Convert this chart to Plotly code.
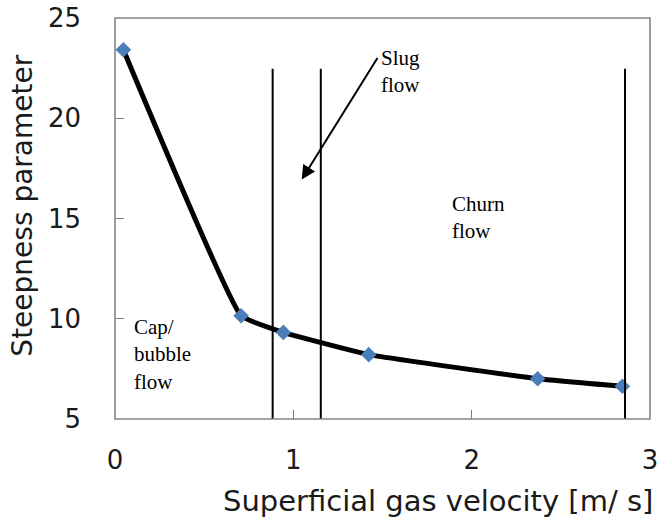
import plotly.graph_objects as go

# Data
gas_velocity = [0.047, 0.707, 0.944, 1.423, 2.37, 2.845]
steepness = [23.42, 10.15, 9.32, 8.21, 7.01, 6.63]

# Flow-regime boundary lines (x positions) and their extent in y
boundary_x = [0.884, 1.154, 2.86]
boundary_y_bottom = 5.0
boundary_y_top = 22.47

# Region labels
region_labels = ["Slug<br>flow", "Churn<br>flow", "Cap/<br>bubble<br>flow"]
region_label_x = [1.48, 1.88, 0.095]
region_label_y = [23.72, 16.43, 10.3]

# Arrow (tail -> head) in data units
arrow_tail = (1.477, 23.08)
arrow_head = (1.047, 16.94)

x_ticks = [0, 1, 2, 3]
y_ticks = [5, 10, 15, 20, 25]

fig = go.Figure()

fig.add_trace(go.Scatter(
    x=gas_velocity, y=steepness,
    mode="lines+markers",
    line=dict(color="black", width=5, shape="spline", smoothing=0.3),
    marker=dict(symbol="diamond", size=12, color="#4A7EBB"),
    showlegend=False, hoverinfo="skip",
))

bx, by = [], []
for xv in boundary_x:
    bx += [xv, xv, None]
    by += [boundary_y_bottom, boundary_y_top, None]
fig.add_trace(go.Scatter(
    x=bx, y=by, mode="lines",
    line=dict(color="black", width=2),
    showlegend=False, hoverinfo="skip",
))

annotations = []
for txt, xv, yv in zip(region_labels, region_label_x, region_label_y):
    annotations.append(dict(
        x=xv, y=yv, xref="x", yref="y", text=txt, showarrow=False,
        xanchor="left", yanchor="top", align="left",
        font=dict(family="Liberation Serif", size=21, color="black"),
    ))

annotations.append(dict(
    x=arrow_head[0], y=arrow_head[1], ax=arrow_tail[0], ay=arrow_tail[1],
    xref="x", yref="y", axref="x", ayref="y", text="",
    showarrow=True, arrowhead=2, arrowsize=1.4, arrowwidth=2, arrowcolor="black",
    standoff=0, startstandoff=0,
))

annotations.append(dict(
    x=0.604, y=-0.205, xref="paper", yref="paper",
    text="Superficial gas velocity [m/ s]", showarrow=False,
    xanchor="center", yanchor="middle",
    font=dict(family="DejaVu Sans", size=29, color="#1a1a1a"),
))
annotations.append(dict(
    x=-0.172, y=0.532, xref="paper", yref="paper",
    text="Steepness parameter", showarrow=False, textangle=-90,
    xanchor="center", yanchor="middle",
    font=dict(family="DejaVu Sans", size=28, color="#1a1a1a"),
))

# Plot-area frame
frame = dict(type="rect", xref="paper", yref="paper", x0=0, y0=0, x1=1, y1=1,
             line=dict(color="#858585", width=1.6), fillcolor="rgba(0,0,0,0)",
             layer="above")

fig.update_layout(
    width=658, height=527,
    margin=dict(l=115, r=8, t=18, b=108, autoexpand=False),
    paper_bgcolor="white", plot_bgcolor="white",
    annotations=annotations,
    shapes=[frame],
    xaxis=dict(
        range=[0, 3], tickvals=x_ticks, ticktext=[str(v) for v in x_ticks],
        showgrid=False, zeroline=False, automargin=False,
        ticklabeloverflow="allow", showline=False,
        ticks="inside", ticklen=9, tickcolor="#7a7a7a", tickwidth=1,
        tickfont=dict(family="DejaVu Sans", size=26, color="#1a1a1a"),
        ticklabelstandoff=23,
    ),
    yaxis=dict(
        range=[5, 25], tickvals=y_ticks, ticktext=[str(v) for v in y_ticks],
        showgrid=False, zeroline=False, automargin=False,
        ticklabeloverflow="allow", showline=False,
        ticks="inside", ticklen=9, tickcolor="#7a7a7a", tickwidth=1,
        tickfont=dict(family="DejaVu Sans", size=26, color="#1a1a1a"),
        ticklabelstandoff=33,
    ),
)

fig.write_html(
    "out.html",
    config={"displayModeBar": False},
    post_script="document.body.style.margin='0';document.body.style.overflow='hidden';",
)
